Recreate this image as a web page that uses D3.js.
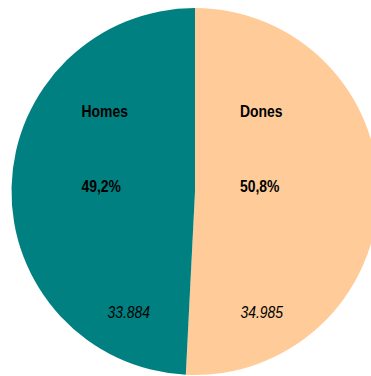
<!DOCTYPE html>
<html>
<head>
<meta charset="utf-8">
<script src="https://cdn.jsdelivr.net/npm/d3@7"></script>
<style>
  body { margin: 0; background: #fff; }
  svg { display: block; }
</style>
</head>
<body>
<svg></svg>
<script>
// dades
var categories = ["Dones", "Homes"]
var values = [34985, 33884]
var percents = ["50,8%", "49,2%"]
var numberLabels = ["34.985", "33.884"]
var colors = ["#ffcc99", "#008080"]

var width = 371, height = 376
var cx = 195, cy = 191.5, radius = 183.5

var svg = d3.select("svg")
    .attr("width", width)
    .attr("height", height)

var g = svg.append("g")
    .attr("transform", `translate(${cx}, ${cy})`)

var pie = d3.pie()
    .sort(null)
    .value(d => d.value)

var arcPath = d3.arc()
    .innerRadius(0)
    .outerRadius(radius)

var colorScale = d3.scaleOrdinal()
    .domain(categories)
    .range(colors)

var data = categories.map((c, i) => ({
    name: c, value: values[i], pct: percents[i], num: numberLabels[i]
}))

var angles = pie(data)

g.selectAll("path")
    .data(angles)
    .enter()
    .append("path")
    .attr("fill", d => colorScale(d.data.name))
    .attr("d", arcPath)

// etiquetes: a la dreta per dones, a l'esquerra per homes
var labelX = d => (d.startAngle < Math.PI ? 45 : -113.5)
var numX = d => (d.startAngle < Math.PI ? 88 : -45)
var narrow = 0.82 // fals "Arial Narrow"

var labels = g.selectAll("g.lab")
    .data(angles)
    .enter()
    .append("g")
    .attr("class", "lab")
    .style("font-family", "'Liberation Sans', Arial, sans-serif")
    .attr("fill", "#000")

labels.append("text")
    .attr("transform", d => `translate(${labelX(d)}, -75) scale(${narrow}, 1)`)
    .attr("font-size", 17)
    .attr("font-weight", "bold")
    .text(d => d.data.name)

labels.append("text")
    .attr("transform", d => `translate(${labelX(d)}, 0) scale(${narrow}, 1)`)
    .attr("font-size", 17)
    .attr("font-weight", "bold")
    .text(d => d.data.pct)

labels.append("text")
    .attr("transform", d => `translate(${numX(d)}, 126.5) scale(${narrow}, 1)`)
    .attr("text-anchor", "end")
    .attr("font-size", 17)
    .attr("font-style", "italic")
    .text(d => d.data.num)
</script>
</body>
</html>
